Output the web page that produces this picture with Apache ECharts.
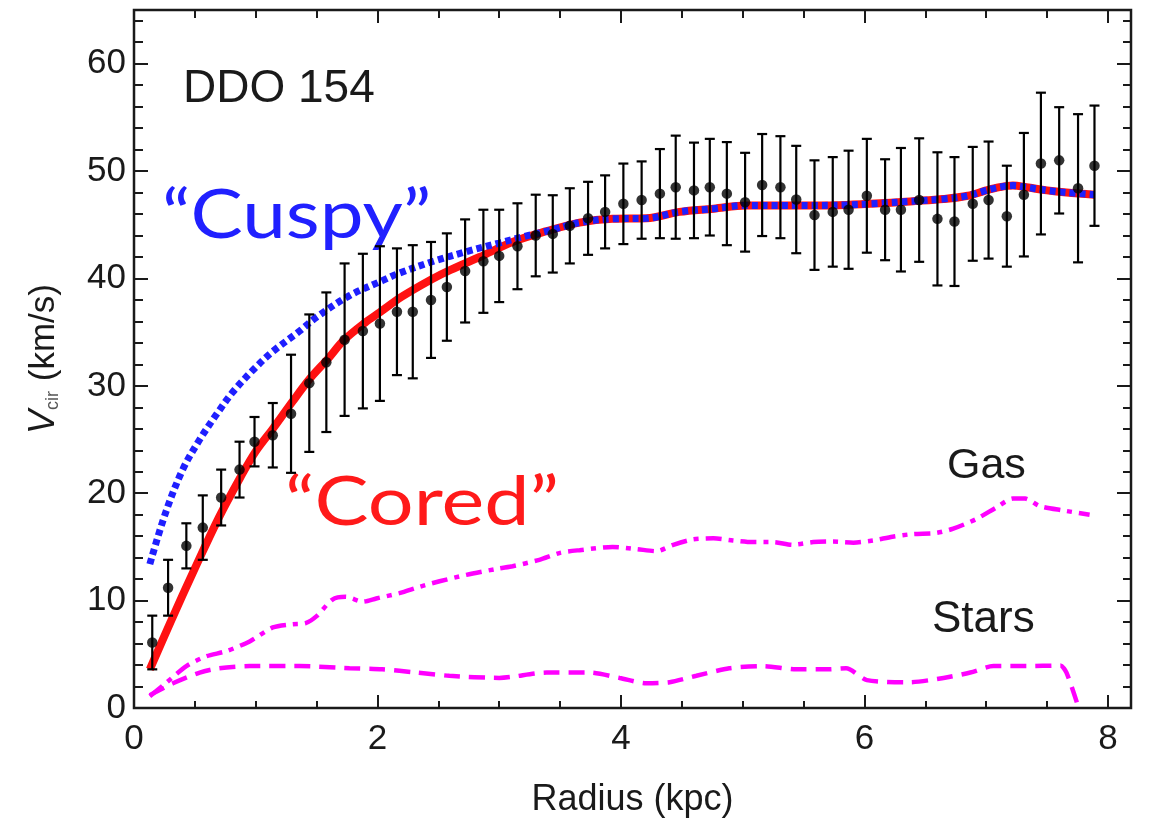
<!DOCTYPE html>
<html>
<head>
<meta charset="utf-8">
<title>DDO 154 rotation curve</title>
<script src="https://cdn.jsdelivr.net/npm/echarts@6/dist/echarts.min.js"></script>
<style>
  html, body { margin: 0; padding: 0; background: #ffffff; }
  #chart { width: 1149px; height: 825px; }
</style>
</head>
<body>
<div id="chart"></div>
<script>
// Observed rotation velocities (kpc, km/s) with 1-sigma uncertainties
const obsRadius = [0.15, 0.28, 0.43, 0.565, 0.716, 0.867, 0.99, 1.14, 1.29, 1.44,
  1.58, 1.73, 1.88, 2.02, 2.16, 2.29, 2.44, 2.57, 2.72, 2.87,
  3.00, 3.15, 3.30, 3.44, 3.58, 3.73, 3.87, 4.02, 4.17, 4.32,
  4.45, 4.60, 4.73, 4.87, 5.02, 5.16, 5.31, 5.44, 5.59, 5.74,
  5.87, 6.02, 6.17, 6.30, 6.45, 6.60, 6.74, 6.89, 7.02, 7.17,
  7.31, 7.45, 7.60, 7.755, 7.89];
const obsVelocity = [6.1, 11.2, 15.1, 16.8, 19.6, 22.2, 24.8, 25.4, 27.4, 30.25,
  32.2, 34.3, 35.1, 35.8, 36.9, 36.9, 38.0, 39.2, 40.7, 41.6,
  42.1, 43.0, 44.0, 44.15, 44.9, 45.6, 46.2, 46.95, 47.3, 47.9,
  48.5, 48.2, 48.5, 47.9, 47.1, 48.7, 48.5, 47.35, 45.9, 46.2,
  46.4, 47.7, 46.4, 46.4, 47.3, 45.55, 45.3, 46.95, 47.3, 45.8,
  47.8, 50.7, 51.0, 48.4, 50.5];
const obsError = [2.5, 2.6, 2.1, 3.0, 2.6, 2.6, 2.3, 3.0, 5.5, 6.4,
  6.5, 7.1, 7.2, 7.2, 5.9, 6.2, 5.4, 5.0, 4.8, 4.8,
  4.3, 4.0, 3.8, 3.6, 3.5, 3.4, 3.4, 3.75, 3.6, 4.15,
  4.8, 4.45, 4.5, 4.8, 4.6, 4.75, 4.75, 5.0, 5.1, 5.1,
  5.5, 5.3, 4.7, 5.75, 5.75, 6.2, 6.0, 5.3, 5.45, 4.7,
  5.75, 6.6, 4.95, 6.9, 5.6];

// Cored-halo model fit
const coredRadius = [0.13, 0.3, 0.5, 0.7, 0.87, 1.0, 1.14, 1.3, 1.44, 1.6,
  1.72, 1.9, 2.02, 2.2, 2.45, 2.6, 2.84, 3.11, 3.39, 3.66,
  3.93, 4.21, 4.48, 4.76, 5.03, 5.3, 5.58, 5.85, 6.13, 6.4,
  6.65, 6.85, 7.0, 7.11, 7.22, 7.33, 7.5, 7.66, 7.89];
const coredVelocity = [3.6, 8.0, 13.0, 17.8, 21.4, 23.9, 26.0, 28.5, 30.6, 32.6,
  34.2, 35.9, 36.85, 38.3, 39.95, 40.8, 42.0, 43.4, 44.4, 45.2,
  45.55, 45.6, 46.2, 46.5, 46.8, 46.8, 46.8, 46.85, 47.0, 47.2,
  47.4, 47.7, 48.2, 48.5, 48.65, 48.5, 48.2, 48.0, 47.8];

// Cuspy (NFW) model fit
const cuspyRadius = [0.13, 0.26, 0.40, 0.54, 0.675, 0.81, 0.98, 1.14, 1.36, 1.5,
  1.77, 2.04, 2.18, 2.46, 2.73, 3.0, 3.2, 3.39, 3.66, 3.93,
  4.21, 4.48, 4.76, 5.03, 5.3, 5.58, 5.85, 6.13, 6.4, 6.65,
  6.85, 7.0, 7.11, 7.22, 7.33, 7.5, 7.66, 7.89];
const cuspyVelocity = [13.4, 18.2, 22.2, 25.0, 27.3, 29.4, 31.5, 33.2, 35.1, 36.4,
  38.4, 39.8, 40.5, 41.6, 42.5, 43.3, 43.9, 44.4, 45.2, 45.55,
  45.6, 46.2, 46.5, 46.8, 46.8, 46.8, 46.85, 47.0, 47.2, 47.4,
  47.7, 48.2, 48.5, 48.65, 48.5, 48.2, 48.0, 47.8];

// Baryonic contributions
const gasRadius = [0.13, 0.26, 0.43, 0.59, 0.76, 0.95, 1.14, 1.30, 1.41, 1.50,
  1.63, 1.74, 1.88, 1.99, 2.18, 2.35, 2.51, 2.73, 3.0, 3.11,
  3.33, 3.50, 3.66, 3.93, 4.13, 4.29, 4.43, 4.59, 4.76, 4.92,
  5.08, 5.25, 5.41, 5.58, 5.74, 5.91, 6.07, 6.23, 6.40, 6.59,
  6.73, 6.92, 7.08, 7.22, 7.32, 7.44, 7.63, 7.85];
const gasVelocity = [1.1, 2.3, 3.9, 4.8, 5.3, 6.2, 7.5, 7.8, 7.9, 8.55,
  10.1, 10.35, 9.9, 10.2, 10.7, 11.3, 11.8, 12.4, 13.0, 13.2,
  13.8, 14.45, 14.7, 15.0, 14.8, 14.6, 15.2, 15.7, 15.8, 15.6,
  15.45, 15.45, 15.2, 15.45, 15.5, 15.4, 15.6, 15.95, 16.2, 16.3,
  16.7, 17.6, 18.65, 19.5, 19.5, 18.8, 18.4, 18.0];

const starsRadius = [0.13, 0.32, 0.54, 0.70, 0.95, 1.36, 1.77, 2.04, 2.32, 2.59,
  3.0, 3.39, 3.74, 3.99, 4.21, 4.40, 4.62, 4.89, 5.17, 5.44,
  5.71, 5.85, 6.02, 6.37, 6.65, 6.87, 7.06, 7.33, 7.61, 7.66, 7.76];
const starsVelocity = [1.2, 2.3, 3.3, 3.7, 3.9, 3.9, 3.7, 3.6, 3.3, 3.0,
  2.8, 3.3, 3.3, 2.8, 2.3, 2.4, 3.0, 3.7, 3.9, 3.6,
  3.6, 3.7, 2.6, 2.4, 2.8, 3.3, 3.9, 3.9, 3.95, 3.3, 0];

// Axis ticks
const xMajorTicks = [0, 2, 4, 6, 8];
const xMinorTicks = [0.5, 1, 1.5, 2.5, 3, 3.5, 4.5, 5, 5.5, 6.5, 7, 7.5];
const yMajorTicks = [0, 10, 20, 30, 40, 50, 60];
const yMinorTicks = [2, 4, 6, 8, 12, 14, 16, 18, 22, 24, 26, 28, 32, 34, 36, 38,
  42, 44, 46, 48, 52, 54, 56, 58, 62, 64];

const zip = (a, b) => a.map((v, i) => [v, b[i]]);

const FONT = '"Liberation Sans", Arial, Helvetica, sans-serif';
const LABEL_FONT = 'Lato, "Open Sans", sans-serif';
const INK = '#1a1a1a';
const MAGENTA = '#ff00ff';

const X_MIN = 0, X_MAX = 8.19, Y_MIN = 0, Y_MAX = 65;

function xAxisDef(position, ticks, len, withLabels) {
  return {
    type: 'value', position: position, min: X_MIN, max: X_MAX,
    axisLine: { show: false, onZero: false },
    splitLine: { show: false },
    axisTick: { show: true, inside: true, length: len, customValues: ticks,
      lineStyle: { color: INK, width: 2 } },
    axisLabel: withLabels
      ? { show: true, customValues: ticks, fontSize: 35, fontFamily: FONT, color: INK, margin: 14 }
      : { show: false },
    name: withLabels ? 'Radius (kpc)' : '',
    nameLocation: 'middle', nameGap: 74,
    nameTextStyle: { fontSize: 36, fontFamily: FONT, color: INK }
  };
}

function yAxisDef(position, ticks, len, withLabels) {
  return {
    type: 'value', position: position, min: Y_MIN, max: Y_MAX,
    axisLine: { show: false, onZero: false },
    splitLine: { show: false },
    axisTick: { show: true, inside: true, length: len, customValues: ticks,
      lineStyle: { color: INK, width: 2 } },
    axisLabel: withLabels
      ? { show: true, customValues: ticks, fontSize: 35, fontFamily: FONT, color: INK, margin: 8 }
      : { show: false },
    name: withLabels ? '{v|V}{s|cir}{n| (km/s)}' : '',
    nameLocation: 'middle', nameRotate: 90, nameGap: 72,
    nameTextStyle: {
      fontFamily: FONT, color: INK,
      rich: {
        v: { fontSize: 36, fontStyle: 'italic', fontFamily: FONT, color: INK, lineHeight: 40, verticalAlign: 'bottom' },
        s: { fontSize: 18, fontFamily: FONT, color: '#555555', lineHeight: 26, verticalAlign: 'bottom' },
        n: { fontSize: 35, fontFamily: FONT, color: INK, lineHeight: 40, verticalAlign: 'bottom' }
      }
    }
  };
}

const chart = echarts.init(document.getElementById('chart'), null, { renderer: 'canvas' });

const option = {
  animation: false,
  backgroundColor: '#ffffff',
  grid: {
    left: 134, right: 18, top: 10, bottom: 117,
    show: true, borderColor: INK, borderWidth: 2.5, backgroundColor: 'transparent'
  },
  xAxis: [
    xAxisDef('bottom', xMajorTicks, 13, true),
    xAxisDef('bottom', xMinorTicks, 7, false),
    xAxisDef('top', xMajorTicks, 13, false),
    xAxisDef('top', xMinorTicks, 8, false)
  ],
  yAxis: [
    yAxisDef('left', yMajorTicks, 14, true),
    yAxisDef('left', yMinorTicks, 9, false),
    yAxisDef('right', yMajorTicks, 14, false),
    yAxisDef('right', yMinorTicks, 8, false)
  ],
  series: [
    {
      name: 'Stars', type: 'line', data: zip(starsRadius, starsVelocity),
      showSymbol: false, smooth: 0.25, z: 2,
      lineStyle: { color: MAGENTA, width: 4.5, type: [16, 9], cap: 'butt' }
    },
    {
      name: 'Gas', type: 'line', data: zip(gasRadius, gasVelocity),
      showSymbol: false, smooth: 0.25, z: 2,
      lineStyle: { color: MAGENTA, width: 4.5, type: [16, 7, 5, 7], cap: 'butt' }
    },
    {
      name: 'Cored', type: 'line', data: zip(coredRadius, coredVelocity),
      showSymbol: false, smooth: 0.35, z: 3,
      lineStyle: { color: '#ff1111', width: 8 }
    },
    {
      name: 'Cuspy', type: 'line', data: zip(cuspyRadius, cuspyVelocity),
      showSymbol: false, smooth: 0.35, z: 4,
      lineStyle: { color: '#1f1fff', width: 7, type: [6, 4], cap: 'butt' }
    },
    {
      name: 'Error', type: 'custom', z: 5,
      data: obsRadius.map((r, i) => [r, obsVelocity[i], obsError[i]]),
      encode: { x: 0, y: 1 },
      renderItem: function (params, api) {
        const x = api.value(0), y = api.value(1), e = api.value(2);
        const top = api.coord([x, y + e]);
        const bot = api.coord([x, y - e]);
        const hw = 5;
        const st = { stroke: '#000000', lineWidth: 2.2 };
        return {
          type: 'group',
          children: [
            { type: 'line', shape: { x1: top[0], y1: top[1], x2: bot[0], y2: bot[1] }, style: st },
            { type: 'line', shape: { x1: top[0] - hw, y1: top[1], x2: top[0] + hw, y2: top[1] }, style: st },
            { type: 'line', shape: { x1: bot[0] - hw, y1: bot[1], x2: bot[0] + hw, y2: bot[1] }, style: st }
          ]
        };
      }
    },
    {
      name: 'Observed', type: 'scatter', z: 6,
      data: zip(obsRadius, obsVelocity),
      symbol: 'circle', symbolSize: 10.5,
      itemStyle: { color: '#000000' }
    }
  ],
  graphic: [
    { type: 'text', left: 183, top: 66,
      style: { text: 'DDO 154', fontSize: 46, fontFamily: FONT, fill: INK } },
    { type: 'text', left: 162, top: 182, scaleX: 1.15,
      style: { text: '\u201CCuspy\u201D', fontSize: 68, fontFamily: LABEL_FONT, fill: '#2020ff' } },
    { type: 'text', left: 285, top: 469, scaleX: 1.19,
      style: { text: '\u201CCored\u201D', fontSize: 68, fontFamily: LABEL_FONT, fill: '#ff1a1a' } },
    { type: 'text', left: 947, top: 445,
      style: { text: 'Gas', fontSize: 43, fontFamily: FONT, fill: INK } },
    { type: 'text', left: 932, top: 598,
      style: { text: 'Stars', fontSize: 44, fontFamily: FONT, fill: INK } }
  ]
};

chart.setOption(option);
</script>
</body>
</html>
